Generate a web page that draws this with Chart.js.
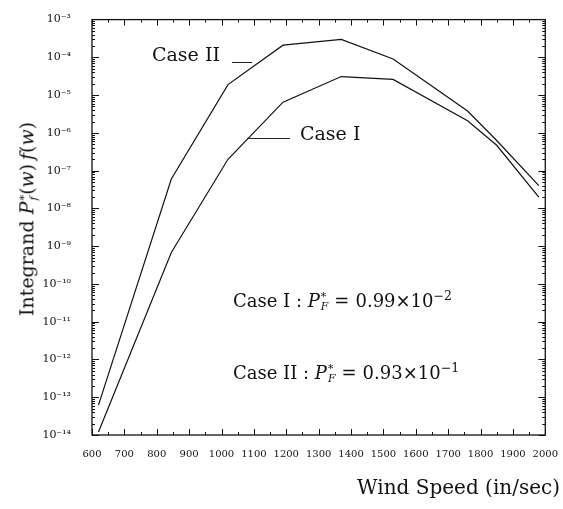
<!DOCTYPE html>
<html>
<head>
<meta charset="utf-8">
<script src="https://cdn.jsdelivr.net/npm/chart.js@4"></script>
<style>
  body { margin: 0; background: #fff; }
  #wrap { position: relative; width: 563px; height: 509px; font-family: 'DejaVu Serif', serif; color: #111; }
  .note { position: absolute; white-space: nowrap; line-height: 1; }
  .lead { position: absolute; height: 0; border-top: 1px solid #222; }
  .ss { display: inline-flex; flex-direction: column; vertical-align: middle; font-size: 0.6em; line-height: 0.9; margin-left: 1px; }
  .ss i { font-style: italic; }
  .eq { margin: 0 6px; }
  sup { font-size: 0.7em; }
  #ytitle { position: absolute; left: 27px; top: 219px; transform: translate(-50%, -50%) rotate(-90deg); font-size: 19px; white-space: nowrap; }
  #xtitle { position: absolute; right: 3px; top: 477px; font-size: 20px; white-space: nowrap; line-height: 1; }
</style>
</head>
<body>
<div id="wrap">
  <canvas id="chart" width="563" height="509"></canvas>
  <div id="ytitle">Integrand <i>P</i><span class="ss"><span>*</span><i>f</i></span>(<i>w</i>)&thinsp;<i>f</i>(<i>w</i>)</div>
  <div id="xtitle">Wind Speed (in/sec)</div>
  <div class="note" style="left:152px; top:45px; font-size:19px;">Case II</div>
  <div class="lead" style="left:232px; top:62px; width:20px;"></div>
  <div class="note" style="left:300px; top:124px; font-size:19px;">Case I</div>
  <div class="lead" style="left:247px; top:138px; width:43px;"></div>
  <div class="note" style="left:233px; top:290px; font-size:18px;">Case I : <i>P</i><span class="ss"><span>*</span><i>F</i></span><span class="eq">=</span>0.99×10<sup>−2</sup></div>
  <div class="note" style="left:233px; top:362px; font-size:18px;">Case II : <i>P</i><span class="ss"><span>*</span><i>F</i></span><span class="eq">=</span>0.93×10<sup>−1</sup></div>
</div>
<script>
// wind speed (in/sec) where the curves bend
const windSpeed = [620, 845, 1020, 1190, 1370, 1530, 1760, 1850, 1980];
// integrand values
const caseI  = [1.2e-14, 6.8e-10, 2.0e-7, 6.5e-6, 3.1e-5, 2.6e-5, 2.1e-6, 4.7e-7, 2.0e-8];
const caseII = [6.2e-14, 6.0e-8, 1.9e-5, 2.1e-4, 3.0e-4, 9.1e-5, 3.8e-6, 6.3e-7, 4.0e-8];

const xTicks = [600, 2000, 100];          // min, max, step
const yExponents = [-14, -13, -12, -11, -10, -9, -8, -7, -6, -5, -4, -3];

const supDigits = { '-': '⁻', '0': '⁰', '1': '¹', '2': '²', '3': '³', '4': '⁴', '5': '⁵', '6': '⁶', '7': '⁷', '8': '⁸', '9': '⁹' };
function powLabel(v) {
    const e = Math.round(Math.log10(v));
    return '10' + String(e).split('').map(c => supDigits[c]).join('');
}

function toPoints(vals) {
    return windSpeed.map((w, i) => ({ x: w, y: vals[i] }));
}

// box frame with inward ticks on all four sides
const frameTicks = {
    id: 'frameTicks',
    afterDraw(chart) {
        const { ctx, chartArea: a, scales: { x, y } } = chart;
        ctx.save();
        ctx.strokeStyle = '#111';
        ctx.lineWidth = 1.3;
        ctx.strokeRect(a.left, a.top, a.right - a.left, a.bottom - a.top);
        ctx.lineWidth = 1;
        ctx.beginPath();
        for (let v = xTicks[0]; v <= xTicks[1]; v += 50) {
            const px = Math.round(x.getPixelForValue(v)) + 0.5;
            const len = v % 100 === 0 ? 6 : 3;
            ctx.moveTo(px, a.bottom); ctx.lineTo(px, a.bottom - len);
            ctx.moveTo(px, a.top); ctx.lineTo(px, a.top + len);
        }
        for (let e = yExponents[0]; e < yExponents[yExponents.length - 1]; e++) {
            for (let m = 1; m <= 9; m++) {
                const py = Math.round(y.getPixelForValue(m * Math.pow(10, e))) + 0.5;
                const len = m === 1 ? 7 : 3;
                ctx.moveTo(a.left, py); ctx.lineTo(a.left + len, py);
                ctx.moveTo(a.right, py); ctx.lineTo(a.right - len, py);
            }
        }
        ctx.stroke();
        ctx.restore();
    }
};

const ctx = document.getElementById('chart').getContext('2d');
const myChart = new Chart(ctx, {
    type: 'line',
    data: {
        datasets: [
            { label: 'Case I', data: toPoints(caseI), borderColor: '#111', borderWidth: 1.2, pointRadius: 0, tension: 0 },
            { label: 'Case II', data: toPoints(caseII), borderColor: '#111', borderWidth: 1.2, pointRadius: 0, tension: 0 }
        ]
    },
    options: {
        responsive: false,
        animation: false,
        devicePixelRatio: 1,
        layout: { padding: { left: 0, right: 13, top: 13, bottom: 0 } },
        plugins: { legend: { display: false }, tooltip: { enabled: false } },
        scales: {
            x: {
                type: 'linear',
                min: xTicks[0],
                max: xTicks[1],
                grid: { display: false },
                border: { display: false },
                ticks: {
                    stepSize: xTicks[2],
                    autoSkip: false,
                    maxRotation: 0,
                    padding: 5,
                    color: '#111',
                    font: { family: 'DejaVu Serif', size: 10 },
                    callback: v => String(v)
                },
                afterFit: s => { s.height = 74; }
            },
            y: {
                type: 'logarithmic',
                min: Math.pow(10, yExponents[0]),
                max: Math.pow(10, yExponents[yExponents.length - 1]),
                grid: { display: false },
                border: { display: false },
                afterBuildTicks: s => { s.ticks = yExponents.map(e => ({ value: Math.pow(10, e) })); },
                ticks: {
                    padding: 13,
                    color: '#111',
                    font: { family: 'DejaVu Serif', size: 11 },
                    callback: v => powLabel(v)
                },
                afterFit: s => { s.width = 92; }
            }
        }
    },
    plugins: [frameTicks]
});
</script>
</body>
</html>
